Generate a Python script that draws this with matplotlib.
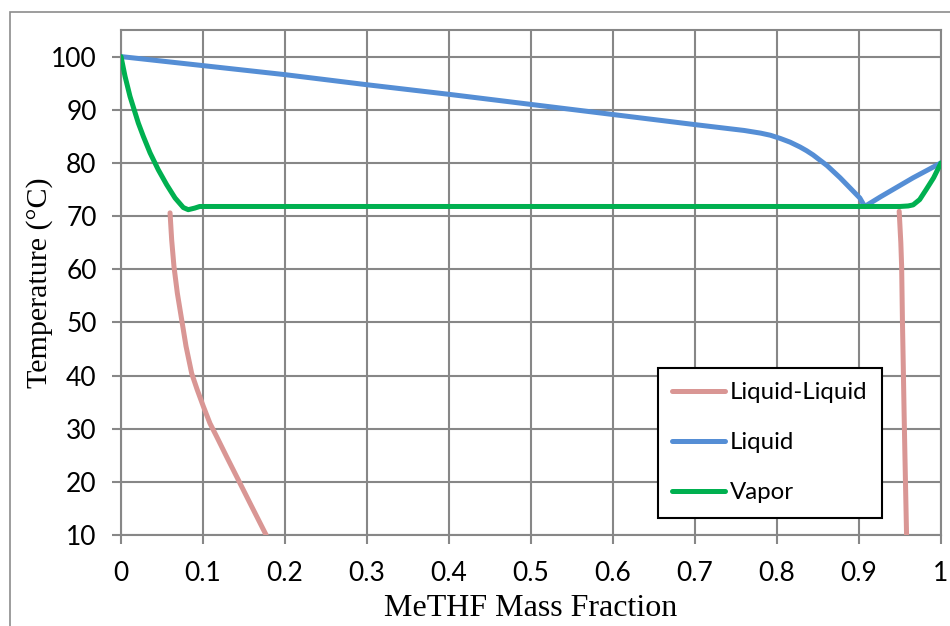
import matplotlib
matplotlib.use("Agg")
import matplotlib.pyplot as plt
from matplotlib.patches import Rectangle

# Phase diagram data: MeTHF mass fraction vs temperature (°C)
ll_left_x = [0.0598, 0.0618, 0.0646, 0.0687, 0.074, 0.0793, 0.0862, 0.093, 0.1004,
             0.1085, 0.1167, 0.1289, 0.141, 0.1573, 0.177]
ll_left_t = [70.6, 65.5, 60.5, 55.5, 50.5, 45.5, 40.4, 37.3, 34.2,
             31.0, 28.5, 24.7, 21.0, 16.0, 10.0]
ll_right_x = [0.949, 0.951, 0.952, 0.953, 0.954, 0.955, 0.956, 0.958]
ll_right_t = [70.9, 65.0, 60.5, 50.0, 41.7, 33.0, 25.0, 10.0]

liquid_x = [0.0, 0.1, 0.2, 0.3, 0.4, 0.5, 0.6, 0.7, 0.76, 0.78, 0.792, 0.804, 0.816,
            0.828, 0.836, 0.844, 0.861, 0.877, 0.889, 0.901, 0.907, 0.926, 0.966, 1.0]
liquid_t = [100.0, 98.3, 96.6, 94.7, 92.9, 91.0, 89.1, 87.2, 86.1, 85.6, 85.2, 84.6,
            83.9, 83.0, 82.3, 81.5, 79.5, 77.2, 75.3, 73.4, 71.8, 73.6, 77.2, 80.0]

vapor_x = [0.0, 0.0049, 0.011, 0.0211, 0.0272, 0.0354, 0.0455, 0.0557, 0.0659, 0.076,
           0.082, 0.090, 0.096, 0.3, 0.5, 0.7, 0.9, 0.950, 0.960, 0.966, 0.974,
           0.982, 0.991, 1.0]
vapor_t = [100.0, 96.3, 92.5, 87.5, 85.0, 81.9, 78.7, 75.9, 73.4, 71.6,
           71.2, 71.5, 71.8, 71.8, 71.8, 71.8, 71.8, 71.8, 71.9, 72.1, 73.1,
           75.0, 77.2, 80.0]

x_ticks = [0, 0.1, 0.2, 0.3, 0.4, 0.5, 0.6, 0.7, 0.8, 0.9, 1]
x_tick_labels = ["0", "0.1", "0.2", "0.3", "0.4", "0.5", "0.6", "0.7", "0.8", "0.9", "1"]
y_ticks = [10, 20, 30, 40, 50, 60, 70, 80, 90, 100]

C_LL = "#D99694"
C_LIQ = "#558ED5"
C_VAP = "#00B050"
GRID = "#878787"

fig = plt.figure(figsize=(9.5, 6.26), dpi=100)
ax = fig.add_axes([121 / 950, 1 - 535 / 626, 820 / 950, 505 / 626])

# outer chart frame
fig.patches.append(Rectangle((10 / 950, -0.2), 2.0, 1.2 - 12 / 626,
                             transform=fig.transFigure, fill=False,
                             edgecolor="#8C8C8C", linewidth=1.2))

lw = 3.6
style = dict(lw=lw, solid_capstyle="round", solid_joinstyle="round")
ax.plot(ll_left_x, ll_left_t, color=C_LL, label="Liquid-Liquid", zorder=3, **style)
ax.plot(ll_right_x, ll_right_t, color=C_LL, zorder=3, **style)
ax.plot(liquid_x, liquid_t, color=C_LIQ, label="Liquid", zorder=3, **style)
ax.plot(vapor_x, vapor_t, color=C_VAP, label="Vapor", zorder=4, **style)

ax.set_xlim(0, 1)
ax.set_ylim(10, 105)
ax.set_xticks(x_ticks)
ax.set_xticklabels(x_tick_labels)
ax.set_yticks(y_ticks)

ax.grid(True, color=GRID, linewidth=1.5)
ax.set_axisbelow(True)
for s in ax.spines.values():
    s.set_color(GRID)
    s.set_linewidth(1.5)

for lab in ax.get_xticklabels() + ax.get_yticklabels():
    lab.set_fontfamily("Lato")
    lab.set_fontsize(19)
ax.tick_params(axis="x", direction="out", length=6.5, width=1.5, color=GRID, pad=12)
ax.tick_params(axis="y", direction="out", length=6.5, width=1.5, color=GRID, pad=11)

ax.set_xlabel("MeTHF Mass Fraction", family="Liberation Serif", fontsize=23, labelpad=6)
ax.set_ylabel("Temperature (°C)", family="Liberation Serif", fontsize=21.6, labelpad=-1.5)

leg = ax.legend(loc="upper left", bbox_to_anchor=((658 - 121) / 820, 1 - (368 - 30) / 505),
                prop={"family": "Lato", "size": 17.3}, frameon=True, fancybox=False,
                edgecolor="black", handlelength=2.2, handletextpad=0.2,
                labelspacing=1.2, borderpad=0.6, borderaxespad=0)
leg.get_frame().set_linewidth(1.5)
leg.get_frame().set_alpha(1)
for h in leg.get_lines():
    h.set_linewidth(3.6)

fig.savefig("out.png", dpi=100)
